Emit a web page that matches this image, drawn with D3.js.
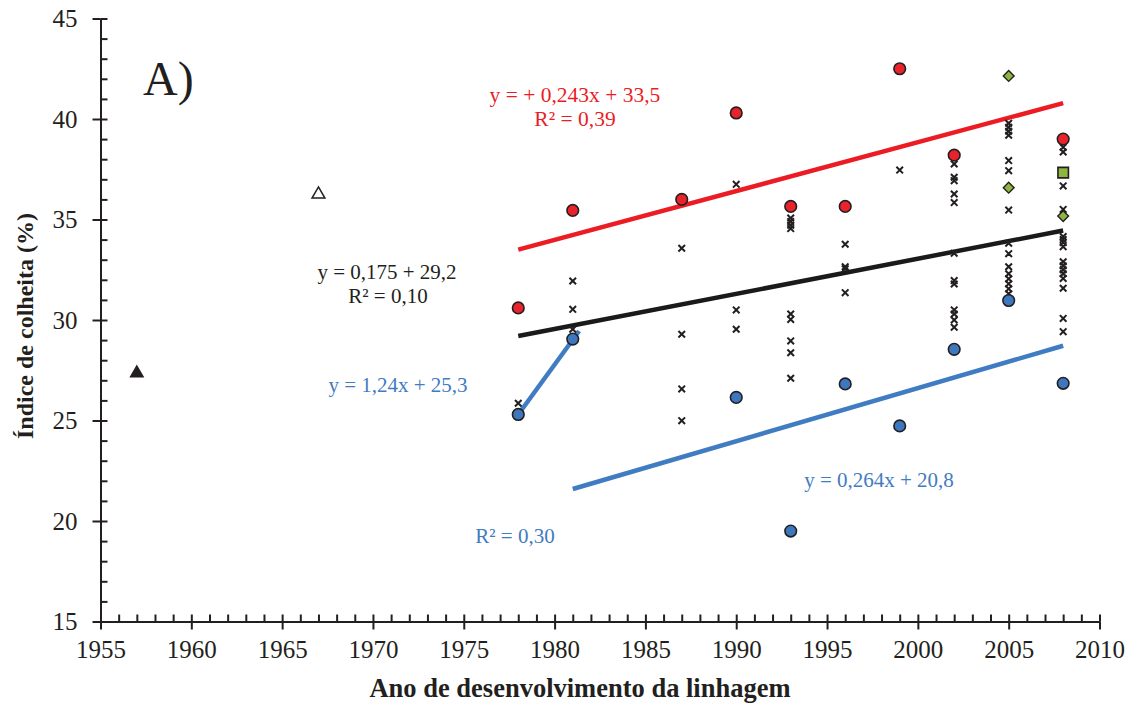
<!DOCTYPE html>
<html>
<head>
<meta charset="utf-8">
<script src="https://cdn.jsdelivr.net/npm/d3@7"></script>
<style>
  body { margin: 0; background: #fff; }
  svg text { font-family: "Liberation Serif", "Times New Roman", serif; }
</style>
</head>
<body>
<div id="chart"></div>
<script>
// Data
const redYears   = [1978, 1981, 1987, 1990, 1993, 1996, 1999, 2002, 2008]
const redValues  = [30.6, 35.45, 36.0, 40.3, 35.65, 35.65, 42.5, 38.2, 39.0]
const blueYears  = [1978, 1981, 1990, 1993, 1996, 1999, 2002, 2005, 2008]
const blueValues = [25.3, 29.05, 26.15, 19.5, 26.82, 24.73, 28.54, 30.97, 26.85]
const crossYears = [
  1978,
  1981, 1981, 1981,
  1987, 1987, 1987, 1987,
  1990, 1990, 1990,
  1993, 1993, 1993, 1993, 1993, 1993, 1993, 1993, 1993,
  1996, 1996, 1996, 1996,
  1999,
  2002, 2002, 2002, 2002, 2002, 2002, 2002, 2002, 2002, 2002, 2002, 2002,
  2005, 2005, 2005, 2005, 2005, 2005, 2005, 2005, 2005, 2005, 2005, 2005, 2005, 2005, 2005,
  2008, 2008, 2008, 2008, 2008, 2008, 2008, 2008, 2008, 2008, 2008, 2008, 2008, 2008, 2008, 2008
]
const crossValues = [
  25.86,
  31.94, 30.53, 29.54,
  33.57, 29.29, 26.57, 24.99,
  36.75, 30.50, 29.54,
  35.07, 34.9, 34.72, 34.55, 30.30, 30.03, 28.96, 28.37, 27.10,
  33.77, 32.65, 32.55, 31.36,
  37.46,
  37.76, 37.10, 36.93, 36.27, 35.84, 33.32, 31.96, 31.79, 30.50, 30.30, 30.0, 29.64,
  39.79, 39.59, 39.39, 39.19, 37.93, 37.43, 35.47, 33.82, 33.3, 32.65, 32.3, 32.05, 31.8, 31.55, 31.3,
  38.59, 38.36, 36.67, 35.5, 34.15, 34.0, 33.85, 33.65, 32.9, 32.7, 32.5, 32.3, 32.07, 31.58, 30.08, 29.42
]
const diamondYears  = [2005, 2005, 2008]
const diamondValues = [42.14, 36.58, 35.17]
const squareYears   = [2008]
const squareValues  = [37.33]
const filledTriYears  = [1957]
const filledTriValues = [27.35]
const openTriYears  = [1967]
const openTriValues = [36.25]

// Trend lines: value = intercept + slope * (year - 1978)
const trendNames      = ['red', 'black', 'blueShort', 'blueLong']
const trendSlopes     = [0.243, 0.175, 1.24, 0.264]
const trendIntercepts = [33.5, 29.2, 25.3, 20.8]
const trendFrom       = [1978, 1978, 1978, 1981]
const trendTo         = [2008, 2008, 1981.35, 2008]
const trendOrigin     = 1978

const xTicks = d3.range(1955, 2011, 5)
const yTicks = d3.range(15, 46, 5)

;(() => {
  const width = 1140, height = 728
  const colors = { red: '#ec1c24', black: '#1a1a1a', blueShort: '#3f7cc1', blueLong: '#3f7cc1' }
  const redFill = '#e8232b', blueFill = '#3d78bf', greenFill = '#8db53f', ink = '#231f20'

  const svg = d3.select('#chart').append('svg')
    .attr('width', width).attr('height', height)

  const x = d3.scaleLinear().domain([1955, 2010]).range([100.5, 1099.5])
  const y = d3.scaleLinear().domain([15, 45]).range([621.5, 18.5])

  // Axes: minor ticks inside, major ticks crossing
  const axisStyle = g => {
    g.selectAll('path, line').attr('stroke', ink).attr('stroke-width', 2)
    g.selectAll('text').attr('fill', ink).style('font-size', '25px')
      .style('font-family', '"Liberation Serif", serif')
  }
  svg.append('g').attr('transform', `translate(0,${y(15)})`)
    .call(d3.axisBottom(x).tickValues(d3.range(1955, 2011)).tickSize(-7).tickSizeOuter(0).tickFormat(''))
    .call(axisStyle)
  svg.append('g').attr('transform', `translate(0,${y(15)})`)
    .call(d3.axisBottom(x).tickValues(xTicks).tickSize(8).tickSizeOuter(0).tickPadding(11).tickFormat(d3.format('d')))
    .call(axisStyle)
  svg.append('g').attr('transform', `translate(${x(1955)},0)`)
    .call(d3.axisLeft(y).tickValues(d3.range(15, 46)).tickSize(-7).tickSizeOuter(0).tickFormat(''))
    .call(axisStyle)
  svg.append('g').attr('transform', `translate(${x(1955)},0)`)
    .call(d3.axisLeft(y).tickValues(yTicks).tickSize(8).tickSizeOuter(0).tickPadding(15).tickFormat(d3.format('d')))
    .call(axisStyle)

  // Axis titles
  svg.append('text')
    .attr('x', 580).attr('y', 697)
    .attr('text-anchor', 'middle')
    .style('font-size', '26.5px').style('font-weight', 'bold').attr('fill', ink)
    .text('Ano de desenvolvimento da linhagem')
  svg.append('text')
    .attr('transform', 'translate(33,326) rotate(-90)')
    .attr('text-anchor', 'middle')
    .style('font-size', '24px').style('font-weight', 'bold').attr('fill', ink)
    .text('Índice de colheita (%)')

  // Panel letter
  svg.append('text')
    .attr('x', 143).attr('y', 95)
    .style('font-size', '48px').attr('fill', ink)
    .text('A)')

  // Trend lines
  const trends = trendNames.map((name, i) => ({
    name,
    points: [trendFrom[i], trendTo[i]].map(yr => [yr, trendIntercepts[i] + trendSlopes[i] * (yr - trendOrigin)])
  }))
  const line = d3.line().x(d => x(d[0])).y(d => y(d[1]))
  svg.append('g').selectAll('path')
    .data(trends)
    .join('path')
    .attr('d', d => line(d.points))
    .attr('fill', 'none')
    .attr('stroke', d => colors[d.name])
    .attr('stroke-width', 4.5)

  const zip = (xs, ys) => xs.map((v, i) => [v, ys[i]])

  // Crosses
  const cross = d3.symbol().type(d3.symbolX).size(30)
  svg.append('g').selectAll('path')
    .data(zip(crossYears, crossValues))
    .join('path')
    .attr('transform', d => `translate(${x(d[0])},${y(d[1])})`)
    .attr('d', cross)
    .attr('fill', 'none')
    .attr('stroke', ink)
    .attr('stroke-width', 2)

  // Circles
  const circles = (years, values, fill) => svg.append('g').selectAll('circle')
    .data(zip(years, values))
    .join('circle')
    .attr('cx', d => x(d[0]))
    .attr('cy', d => y(d[1]))
    .attr('r', 5.8)
    .attr('fill', fill)
    .attr('stroke', ink)
    .attr('stroke-width', 1.6)
  circles(redYears, redValues, redFill)
  circles(blueYears, blueValues, blueFill)

  // Green diamonds and square
  svg.append('g').selectAll('path')
    .data(zip(diamondYears, diamondValues))
    .join('path')
    .attr('transform', d => `translate(${x(d[0])},${y(d[1])}) rotate(45)`)
    .attr('d', d3.symbol().type(d3.symbolSquare).size(58))
    .attr('fill', greenFill).attr('stroke', ink).attr('stroke-width', 1.4)
  svg.append('g').selectAll('path')
    .data(zip(squareYears, squareValues))
    .join('path')
    .attr('transform', d => `translate(${x(d[0])},${y(d[1])})`)
    .attr('d', d3.symbol().type(d3.symbolSquare).size(110))
    .attr('fill', greenFill).attr('stroke', ink).attr('stroke-width', 1.6)

  // Triangles
  const tri = d3.symbol().type(d3.symbolTriangle).size(72)
  svg.append('g').selectAll('path')
    .data(zip(filledTriYears, filledTriValues))
    .join('path')
    .attr('transform', d => `translate(${x(d[0])},${y(d[1])})`)
    .attr('d', tri)
    .attr('fill', ink).attr('stroke', ink).attr('stroke-width', 1.2)
  svg.append('g').selectAll('path')
    .data(zip(openTriYears, openTriValues))
    .join('path')
    .attr('transform', d => `translate(${x(d[0])},${y(d[1])})`)
    .attr('d', tri)
    .attr('fill', '#fff').attr('stroke', ink).attr('stroke-width', 1.5)

  // Equation labels
  const labels = [
    { text: 'y = + 0,243x + 33,5', x: 575, y: 102, color: colors.red, size: 21.5 },
    { text: 'R² = 0,39', x: 575, y: 126, color: colors.red, size: 21.5 },
    { text: 'y = 0,175 + 29,2', x: 387, y: 279, color: ink, size: 21 },
    { text: 'R² = 0,10', x: 388, y: 303, color: ink, size: 21 },
    { text: 'y = 1,24x + 25,3', x: 398, y: 392, color: colors.blueShort, size: 21 },
    { text: 'y = 0,264x + 20,8', x: 879, y: 487, color: colors.blueLong, size: 21 },
    { text: 'R² = 0,30', x: 515, y: 543, color: colors.blueShort, size: 21 }
  ]
  svg.append('g').selectAll('text')
    .data(labels)
    .join('text')
    .attr('x', d => d.x).attr('y', d => d.y)
    .attr('text-anchor', 'middle')
    .attr('fill', d => d.color)
    .style('font-size', d => `${d.size}px`)
    .text(d => d.text)
})()
</script>
</body>
</html>
